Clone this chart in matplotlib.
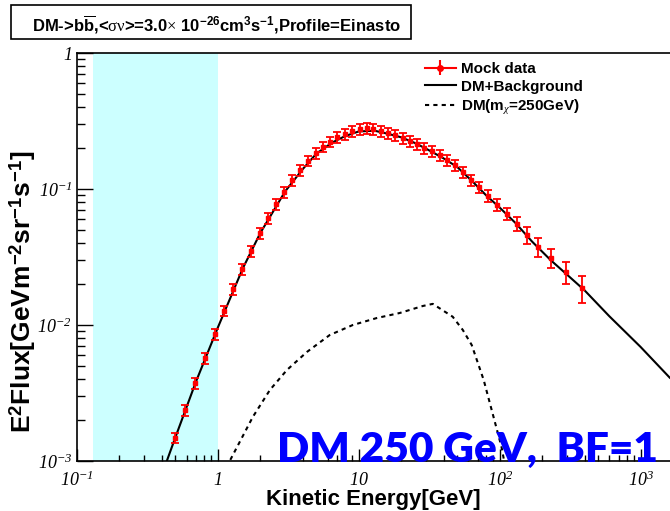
import numpy as np
import matplotlib
matplotlib.use('Agg')
import matplotlib.pyplot as plt
from matplotlib.patches import Rectangle

# ROOT-like fonts: italic serif numbers, bold sans labels
plt.rcParams['mathtext.fontset'] = 'custom'
plt.rcParams['mathtext.rm'] = 'Liberation Serif:italic'
plt.rcParams['mathtext.it'] = 'Liberation Serif:italic'
plt.rcParams['mathtext.bf'] = 'Liberation Sans:bold'
plt.rcParams['mathtext.tt'] = 'Liberation Serif'
plt.rcParams['mathtext.sf'] = 'Liberation Sans'

# Mock data points (GeV, GeV m^-2 sr^-1 s^-1)
data_e = [0.496, 0.583, 0.687, 0.809, 0.952, 1.10, 1.28, 1.48, 1.71, 1.99,
          2.26, 2.58, 2.94, 3.35, 3.82, 4.35, 4.95, 5.56, 6.22, 6.98,
          7.96, 8.92, 10.2, 11.4, 12.6, 14.3, 16.1, 18.0, 20.5, 23.0,
          25.8, 28.9, 33.0, 37.5, 42.1, 48.0, 54.7, 62.3, 71.0, 82.2,
          95.2, 112, 132, 155, 186, 230, 294, 382]
data_flux = [1.48e-3, 2.37e-3, 3.75e-3, 5.72e-3, 8.59e-3, 1.27e-2, 1.84e-2, 2.58e-2, 3.50e-2, 4.75e-2,
             6.12e-2, 7.76e-2, 9.51e-2, 0.1165, 0.138, 0.161, 0.184, 0.204, 0.222, 0.241,
             0.254, 0.267, 0.276, 0.281, 0.276, 0.267, 0.258, 0.249, 0.237, 0.225,
             0.214, 0.200, 0.190, 0.178, 0.163, 0.150, 0.133, 0.1165, 0.1035, 0.0888,
             0.0762, 0.0655, 0.0553, 0.0459, 0.0375, 0.0311, 0.0245, 0.0187]
data_err = [1.3e-4, 2.1e-4, 3.4e-4, 5.1e-4, 7.7e-4, 1.1e-3, 1.7e-3, 2.3e-3, 3.2e-3, 4.3e-3,
            5.5e-3, 7.0e-3, 8.6e-3, 0.0105, 0.0124, 0.0145, 0.0166, 0.0184, 0.020, 0.0217,
            0.0229, 0.024, 0.0248, 0.0253, 0.0248, 0.024, 0.0232, 0.0224, 0.0213, 0.0203,
            0.0193, 0.018, 0.0171, 0.016, 0.0147, 0.0135, 0.012, 0.0105, 0.0093, 0.0089,
            0.0076, 0.0066, 0.0066, 0.0064, 0.006, 0.005, 0.0044, 0.0041]

# DM + background model
model_e = [0.434, 0.5, 0.7, 1.0, 1.5, 2.0, 3.0, 4.0, 5.0, 6.5,
           8.0, 10, 13, 16, 20, 25, 30, 40, 50, 65,
           80, 100, 130, 170, 230, 300, 400, 600, 1000, 1610]
model_flux = [1.0e-3, 1.5e-3, 3.85e-3, 9.6e-3, 2.6e-2, 4.75e-2, 9.6e-2, 0.14, 0.182, 0.22,
              0.245, 0.265, 0.268, 0.255, 0.240, 0.218, 0.198, 0.168, 0.145, 0.112,
              0.090, 0.073, 0.056, 0.041, 0.030, 0.0235, 0.0180, 0.0116, 6.9e-3, 4.1e-3]

# DM only (m_chi = 250 GeV)
dm_e = [1.15, 1.77, 2.34, 3.09, 4.28, 6.22, 9.07, 13.4, 19.5, 28.5,
        33.5, 46.4, 54.7, 63.3, 77.0, 103, 109]
dm_flux = [9.0e-4, 2.11e-3, 3.33e-3, 4.67e-3, 6.33e-3, 8.44e-3, 1.0e-2, 1.125e-2, 1.225e-2, 1.38e-2,
           1.43e-2, 1.15e-2, 9.2e-3, 7.13e-3, 3.94e-3, 1.27e-3, 9.3e-4]

xticks = [0.1, 1, 10, 100, 1000]
xticklabels = ['$10^{-1}$', '$1$', '$10$', '$10^{2}$', '$10^{3}$']
yticks = [1e-3, 1e-2, 1e-1, 1]
yticklabels = ['$10^{-3}$', '$10^{-2}$', '$10^{-1}$', '$1$']

W, H = 670, 511
fig = plt.figure(figsize=(W / 100, H / 100), dpi=100)
ax = fig.add_axes([77 / W, 50 / H, 606 / W, 408 / H])
ax.set_xscale('log')
ax.set_yscale('log')
ax.set_xlim(0.1, 2000)
ax.set_ylim(1e-3, 1)

ax.axvspan(0.13, 1.0, color='#ccffff', lw=0, zorder=0)
l_model, = ax.plot(model_e, model_flux, color='black', lw=1.5, zorder=2)
l_dm, = ax.plot(dm_e, dm_flux, color='black', lw=1.5, ls=(0, (2, 2)), zorder=2)
ax.errorbar(data_e, data_flux, yerr=data_err, fmt='s', ms=3, color='red',
            ecolor='red', elinewidth=1.3, capsize=3, capthick=1.3, zorder=3)
proxy = ax.errorbar([np.nan], [np.nan], yerr=[np.nan], fmt='-o', ms=4, color='red',
                    lw=1.5, elinewidth=1.5, capsize=0)

ax.set_xticks(xticks)
ax.set_xticklabels(xticklabels, fontsize=13)
ax.set_yticks(yticks)
ax.set_yticklabels(yticklabels, fontsize=13)
ax.tick_params(which='both', direction='in', top=False, right=False, width=1)
ax.tick_params(axis='y', which='major', length=11.5, pad=3.5)
ax.tick_params(axis='y', which='minor', length=6)
ax.tick_params(axis='x', which='major', length=9, pad=7)
ax.tick_params(axis='x', which='minor', length=4)
for s in ax.spines.values():
    s.set_linewidth(1.2)

leg = ax.legend([proxy, l_model, l_dm],
                ['Mock data', 'DM+Background', 'DM(m$_{\\chi}$=250GeV)'],
                loc='upper left', bbox_to_anchor=(425 / W, 1 - 62 / H),
                bbox_transform=fig.transFigure, frameon=False,
                prop=dict(family='Liberation Sans', weight='bold', size=11),
                handlelength=2.0, handletextpad=0.35, labelspacing=0.25,
                borderpad=0, borderaxespad=0)

# title box
fig.patches.append(Rectangle((11 / W, 1 - 39 / H), 400 / W, 34 / H, transform=fig.transFigure,
                             facecolor='white', edgecolor='black', lw=1.2))
fig.text(32 / W, 1 - 31 / H,
         r'DM->b$\mathbf{\overline{b}}$,<$\mathtt{\sigma\nu}$>=3.0$\mathtt{\times}$ 10$^{\mathbf{-26}}$'
         r'cm$^{\mathbf{3}}$s$^{\mathbf{-1}}$,Profile=Einasto',
         family='Liberation Sans', weight='bold', fontsize=12, va='baseline', ha='left')

fig.text(23 / W, 1 - 292 / H,
         r'E$^{\mathbf{2}}$Flux[GeVm$^{\mathbf{-2}}$sr$^{\mathbf{-1}}$s$^{\mathbf{-1}}$]',
         family='Liberation Sans', weight='bold', fontsize=19, rotation=90,
         ha='center', va='center')
fig.text(373 / W, 1 - 499 / H, 'Kinetic Energy[GeV]', family='Liberation Sans',
         weight='bold', fontsize=16, ha='center', va='center')

fig.text(277 / W, 1 - 462 / H, 'DM 250 GeV,  BF=1', color='#0000ff', fontsize=30.5,
         weight='heavy', family='Lato', ha='left', va='baseline')

fig.savefig('out.png', dpi=100)
